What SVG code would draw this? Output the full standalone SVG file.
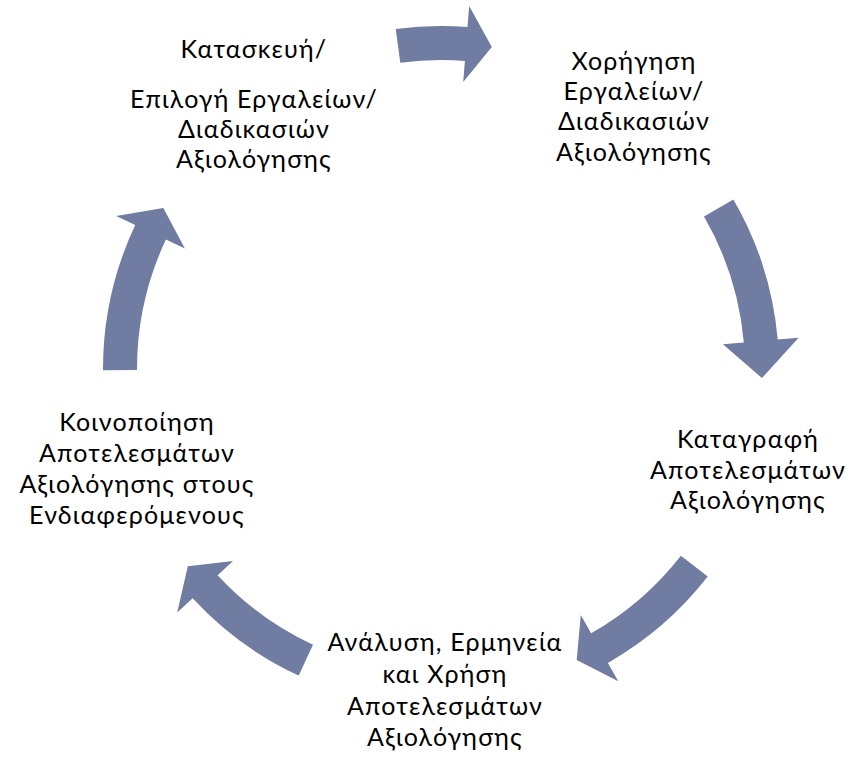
<svg xmlns="http://www.w3.org/2000/svg" width="850" height="757" viewBox="0 0 850 757">
<defs>
<style>
.arrow{fill:#707CA1;stroke:none}
.lbl{font-family:Lato,"Open Sans","Noto Sans",sans-serif;font-size:25px;letter-spacing:1.2px;fill:#000;text-anchor:middle}
</style>
</defs>
<rect width="850" height="757" fill="#fff"/>
<g id="connectors">
<path class="arrow" transform="translate(0,-5)" d="M395.7,34.0 A338,338 0 0 1 467.5,32.0 L469.2,11.1 L491.8,52.0 L463.2,86.9 L464.9,65.9 A304,304 0 0 0 400.3,67.7 Z"/>
<path class="arrow" d="M733.4,199.5 A338,338 0 0 1 777.7,339.5 L798.6,337.7 L761.9,378.0 L722.9,344.3 L743.8,342.5 A304,304 0 0 0 704.0,216.5 Z"/>
<path class="arrow" d="M707.7,576.6 A338,338 0 0 1 607.9,662.9 L618.3,681.2 L576.7,659.9 L580.8,615.1 L591.1,633.3 A304,304 0 0 0 680.9,555.7 Z"/>
<path class="arrow" d="M298.7,675.6 A338,338 0 0 1 192.6,598.2 L177.2,612.5 L187.8,566.2 L233.0,560.9 L217.6,575.2 A304,304 0 0 0 313.0,644.7 Z"/>
<path class="arrow" d="M103,370.2 A338,338 0 0 1 135.2,225.1 L116.2,216.1 L163.3,208.0 L184.9,248.5 L165.9,239.6 A304,304 0 0 0 137,370.1 Z"/>
</g>
<g id="node1">
<text class="lbl" x="254" y="58">Κατασκευή/</text>
<text class="lbl" x="254" y="108">Επιλογή Εργαλείων/</text>
<text class="lbl" x="254" y="138">Διαδικασιών</text>
<text class="lbl" x="254" y="168">Αξιολόγησης</text>
</g>
<g id="node2">
<text class="lbl" x="634" y="70">Χορήγηση</text>
<text class="lbl" x="634" y="100">Εργαλείων/</text>
<text class="lbl" x="634" y="130">Διαδικασιών</text>
<text class="lbl" x="634" y="161">Αξιολόγησης</text>
</g>
<g id="node3">
<text class="lbl" x="748" y="448">Καταγραφή</text>
<text class="lbl" x="748" y="479">Αποτελεσμάτων</text>
<text class="lbl" x="748" y="509">Αξιολόγησης</text>
</g>
<g id="node4">
<text class="lbl" x="445" y="651">Ανάλυση, Ερμηνεία</text>
<text class="lbl" x="445" y="683">και Χρήση</text>
<text class="lbl" x="445" y="715">Αποτελεσμάτων</text>
<text class="lbl" x="445" y="746">Αξιολόγησης</text>
</g>
<g id="node5">
<text class="lbl" x="137" y="431">Κοινοποίηση</text>
<text class="lbl" x="137" y="462">Αποτελεσμάτων</text>
<text class="lbl" x="137" y="493">Αξιολόγησης στους</text>
<text class="lbl" x="137" y="524">Ενδιαφερόμενους</text>
</g>
</svg>
